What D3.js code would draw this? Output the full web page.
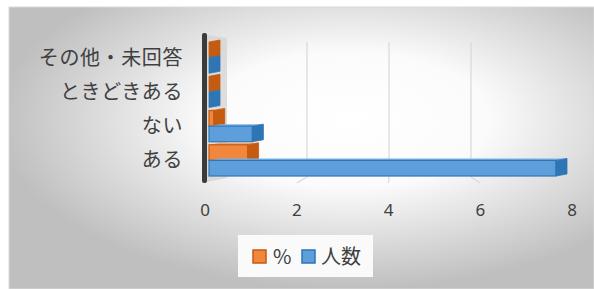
<!DOCTYPE html>
<html><head><meta charset="utf-8">
<script src="https://cdn.jsdelivr.net/npm/d3@7"></script>
<style>html,body{margin:0;padding:0;background:#fff;}svg{display:block;}</style>
</head><body>
<script>
const categories = ["ある", "ない", "ときどきある", "その他・未回答"];
const countValues = [8, 1, 0, 0];      // 人数
const pctValues = [0.89, 0.11, 0, 0];  // %
const tickValues = [0, 2, 4, 6, 8];
const seriesNames = ["%", "人数"];

const W = 594, H = 289;
const svg = d3.select("body").append("svg").attr("width", W).attr("height", H);
const defs = svg.append("defs");
const bg = defs.append("radialGradient").attr("id", "bg")
  .attr("cx", "58%").attr("cy", "40%").attr("r", "60%").attr("fx", "58%").attr("fy", "40%");
bg.append("stop").attr("offset", "0").attr("stop-color", "#ffffff");
bg.append("stop").attr("offset", "0.4").attr("stop-color", "#fbfbfb");
bg.append("stop").attr("offset", "1").attr("stop-color", "#bfbfbf");

svg.append("rect").attr("x", 9).attr("y", 7).attr("width", W - 9).attr("height", H - 7)
  .attr("fill", "url(#bg)").attr("stroke", "#d9d9d9").attr("stroke-width", 1);

const font = "'Noto Sans CJK JP', 'Noto Sans', sans-serif";
const txt = "#404040";

// scales
const xFront = d3.scaleLinear().domain([0, 8]).range([205, 572]);   // axis labels
const xBack = d3.scaleLinear().domain([0, 8]).range([225, 553]);    // back wall gridlines
const xBar = d3.scaleLinear().domain([0, 8]).range([209, 556]);     // bar faces
const order = categories.slice().reverse();
const y = d3.scaleBand().domain(order).range([40, 177]).paddingInner(0);
const ySub = d3.scaleBand().domain(seriesNames).range([2, y.bandwidth() - 1]).paddingInner(0);

// wall side strip
svg.append("polygon")
  .attr("points", [[207, 35], [227, 38], [227, 178], [207, 182]].map(p => p.join(",")).join(" "))
  .attr("fill", "#d3d3d3").attr("opacity", 0.75);

// gridlines (back wall + floor)
const grid = svg.append("g");
tickValues.filter(v => v > 0 && v < 8).forEach(v => {
  grid.append("line").attr("x1", xBack(v)).attr("x2", xBack(v)).attr("y1", 42).attr("y2", 177)
    .attr("stroke", "#d9d9d9").attr("stroke-width", 1.2);
  grid.append("line").attr("x1", xBack(v)).attr("x2", xFront(v)).attr("y1", 177).attr("y2", 183)
    .attr("stroke", "#d9d9d9").attr("stroke-width", 1.2);
});

// wall
svg.append("rect").attr("x", 202).attr("y", 33).attr("width", 5).attr("height", 150)
  .attr("rx", 2).attr("fill", "#3b3b3b");

// bars
const dx = 11, dy = 2;
const colors = {
  "%": {face: "#F0873C", side: "#C55A11", edge: "#C55A11", light: "#F6A469"},
  "人数": {face: "#5E9FDB", side: "#2E75B6", edge: "#2E75B6", light: "#7DB3E6"}
};
const rows = [];
categories.forEach((c, i) => {
  rows.push({cat: c, s: "%", v: pctValues[i]});
  rows.push({cat: c, s: "人数", v: countValues[i]});
});
const bars = svg.append("g");
rows.forEach(d => {
  const col = colors[d.s];
  const y0 = y(d.cat) + ySub(d.s), h = ySub.bandwidth();
  const x0 = xBar(0), x1 = xBar(d.v);
  // top face
  bars.append("polygon")
    .attr("points", [[x0, y0], [x0 + dx, y0 - dy], [x1 + dx, y0 - dy], [x1, y0]].map(p => p.join(",")).join(" "))
    .attr("fill", col.light);
  // front face
  bars.append("rect").attr("x", x0).attr("y", y0).attr("width", Math.max(0, x1 - x0)).attr("height", h)
    .attr("fill", col.face).attr("stroke", col.edge).attr("stroke-width", 1.2);
  // end cap
  bars.append("polygon")
    .attr("points", [[x1, y0], [x1 + dx, y0 - dy], [x1 + dx, y0 + h - dy], [x1, y0 + h]].map(p => p.join(",")).join(" "))
    .attr("fill", col.side).attr("stroke", col.edge).attr("stroke-width", 0.8);
});

// category labels
svg.append("g").selectAll("text").data(categories).join("text")
  .attr("x", 183).attr("y", d => y(d) + y.bandwidth() / 2 - 1)
  .attr("text-anchor", "end").attr("dominant-baseline", "central")
  .attr("font-family", font).attr("font-size", 20).attr("letter-spacing", 0.6)
  .attr("fill", txt).text(d => d);

// x axis labels
svg.append("g").selectAll("text").data(tickValues).join("text")
  .attr("x", d => xFront(d)).attr("y", 216)
  .attr("text-anchor", "middle").attr("font-family", "'Noto Sans', sans-serif").attr("font-size", 17)
  .attr("fill", txt).text(d => d);

// legend
const lg = svg.append("g");
lg.append("rect").attr("x", 238).attr("y", 235).attr("width", 135).attr("height", 42).attr("fill", "#fafafa");
const legendItems = [
  {name: "%", x: 253, tx: 273},
  {name: "人数", x: 302, tx: 321}
];
legendItems.forEach(it => {
  const col = colors[it.name];
  lg.append("rect").attr("x", it.x).attr("y", 250).attr("width", 13).attr("height", 13)
    .attr("fill", col.face).attr("stroke", col.edge).attr("stroke-width", 1.5);
  lg.append("text").attr("x", it.tx).attr("y", 264)
    .attr("font-family", font).attr("font-size", 20).attr("fill", txt).text(it.name);
});
</script>
</body></html>
